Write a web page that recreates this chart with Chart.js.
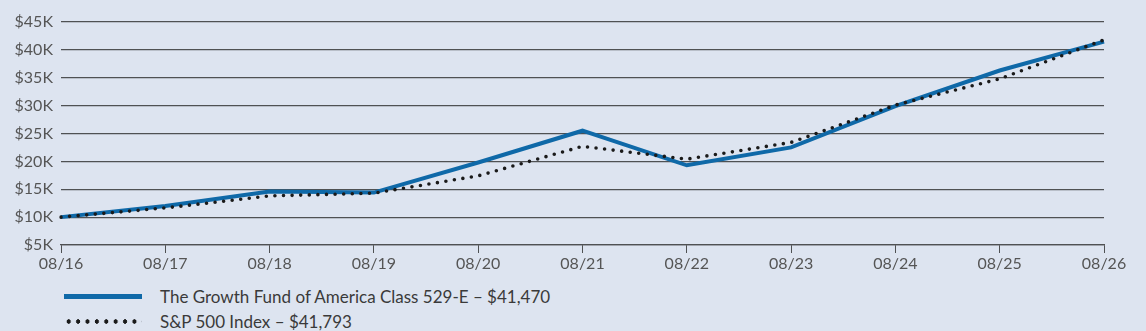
<!DOCTYPE html>
<html>
<head>
<meta charset="utf-8">
<script src="https://cdn.jsdelivr.net/npm/chart.js@4.4.1/dist/chart.umd.min.js"></script>
<style>
    body { margin: 0; background: #dde4f0; font-family: Lato, "Open Sans", sans-serif; }
    #wrap { position: relative; width: 1146px; height: 331px; }
    #chart-box { position: absolute; left: 0; top: 0; width: 1146px; height: 280px; }
    .legend-row { position: absolute; left: 0; height: 20px; display: flex; align-items: center; color: #3a3a3a; font-size: 17px; }
    .legend-row .swatch { position: absolute; left: 64px; width: 78px; }
    .legend-row .label { position: absolute; left: 160px; white-space: nowrap; }
    .swatch.solid { height: 5px; background: #0f69a8; top: 8px; }
    .swatch.dots { height: 5px; top: 8px; background-image: radial-gradient(circle, #1a1a1a 2px, transparent 2.4px); background-size: 9.4px 5px; }
</style>
</head>
<body>
<div id="wrap">
    <div id="chart-box"><canvas id="growth-chart"></canvas></div>
    <div class="legend-row" style="top:286px;">
        <div class="swatch solid"></div>
        <div class="label">The Growth Fund of America Class 529-E – $41,470</div>
    </div>
    <div class="legend-row" style="top:311px;">
        <div class="swatch dots"></div>
        <div class="label">S&amp;P 500 Index – $41,793</div>
    </div>
</div>
<script>
// Chart data
const periods = ['08/16', '08/17', '08/18', '08/19', '08/20', '08/21', '08/22', '08/23', '08/24', '08/25', '08/26'];
const fundValues = [10000, 12000, 14600, 14400, 19800, 25500, 19300, 22500, 29900, 36300, 41470];
const indexValues = [10000, 11650, 13800, 14300, 17400, 22700, 20400, 23400, 30100, 34800, 41793];
const yTicks = [5000, 10000, 15000, 20000, 25000, 30000, 35000, 40000, 45000];

const gridColor = '#4f5153';
const tickFont = { family: 'Lato, "Open Sans", sans-serif', size: 16 };

new Chart(document.getElementById('growth-chart'), {
    type: 'line',
    data: {
        labels: periods,
        datasets: [
            {
                label: 'S&P 500 Index',
                data: indexValues,
                borderColor: '#1a1a1a',
                borderWidth: 3.6,
                borderDash: [0, 8.6],
                borderCapStyle: 'round',
                pointRadius: 0,
                tension: 0,
                fill: false
            },
            {
                label: 'The Growth Fund of America Class 529-E',
                data: fundValues,
                borderColor: '#0f69a8',
                borderWidth: 4,
                borderJoinStyle: 'miter',
                pointRadius: 0,
                tension: 0,
                fill: false
            }
        ]
    },
    options: {
        responsive: true,
        maintainAspectRatio: false,
        animation: false,
        layout: {
            padding: { left: 0, right: 42, top: 22, bottom: 0 }
        },
        plugins: {
            legend: { display: false },
            tooltip: { enabled: false }
        },
        scales: {
            x: {
                offset: false,
                afterFit: (scale) => { scale.height = 35; },
                border: { display: true, color: gridColor, width: 1.2 },
                grid: { drawOnChartArea: false, drawTicks: true, tickLength: 8, color: gridColor },
                ticks: {
                    color: '#555',
                    font: tickFont,
                    padding: 1,
                    maxRotation: 0,
                    autoSkip: false
                }
            },
            y: {
                min: 5000,
                max: 45000,
                afterFit: (scale) => { scale.width = 61; },
                afterBuildTicks: (scale) => { scale.ticks = yTicks.map(v => ({ value: v })); },
                border: { display: false },
                grid: { drawTicks: false, color: gridColor, lineWidth: 1.2 },
                ticks: {
                    color: '#555',
                    font: tickFont,
                    padding: 8,
                    callback: (value) => '$' + (value / 1000) + 'K'
                }
            }
        }
    }
});
</script>
</body>
</html>
